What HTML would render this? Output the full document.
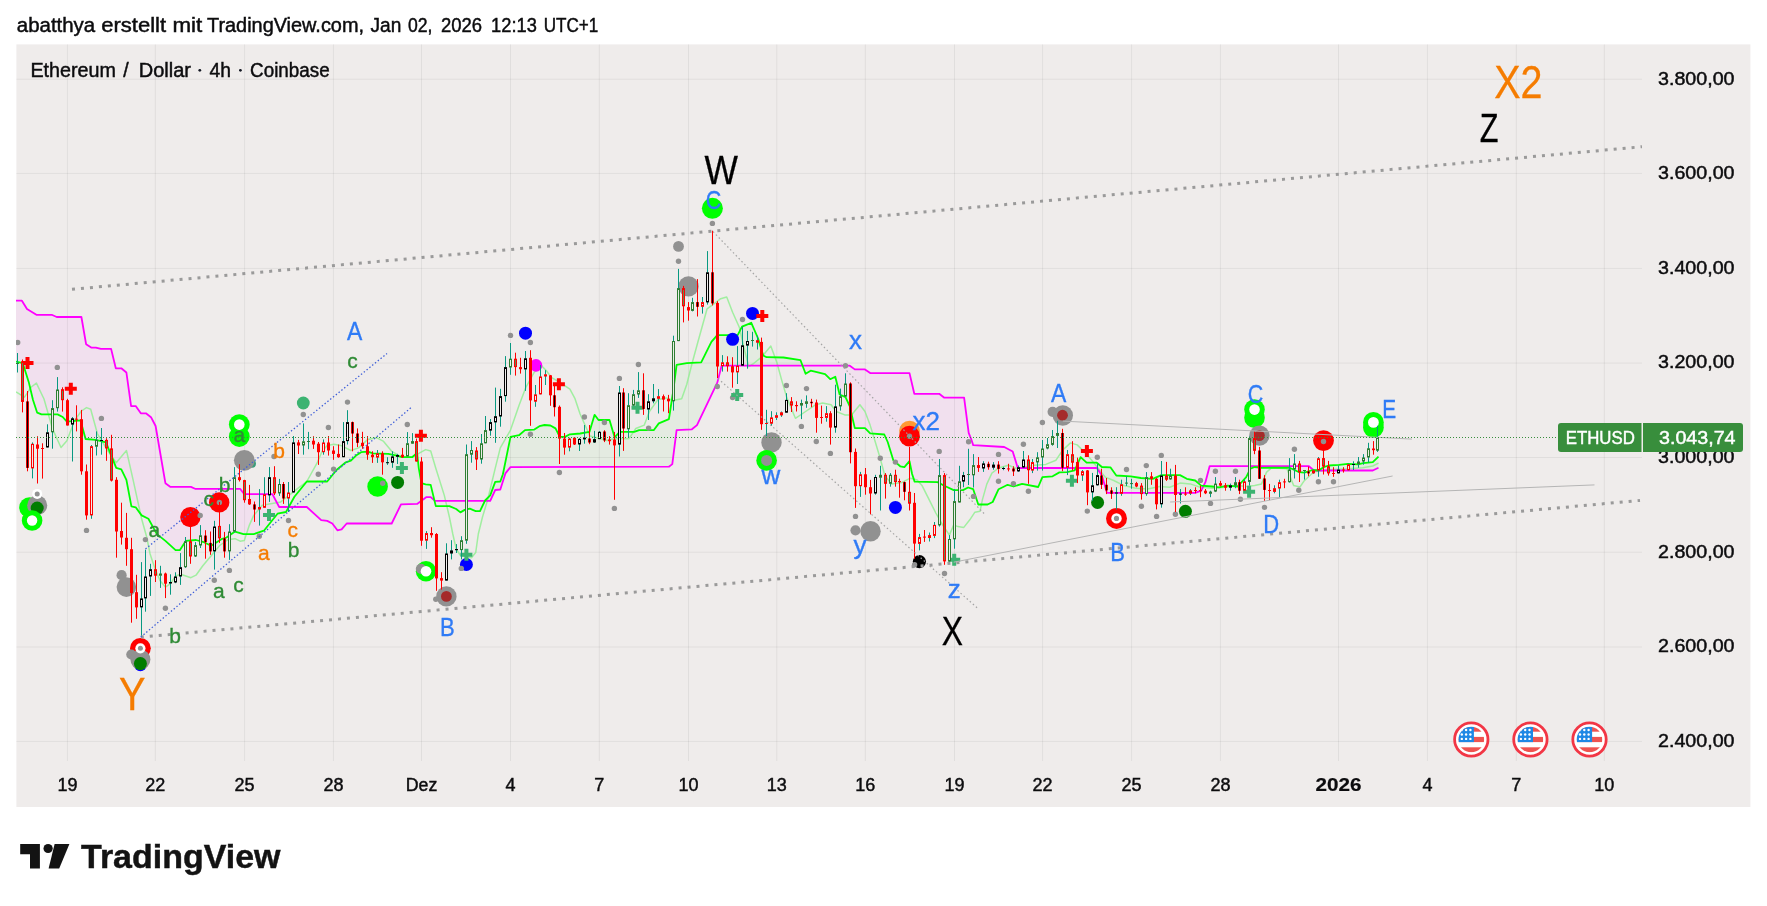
<!DOCTYPE html><html><head><meta charset="utf-8"><title>ETHUSD</title>
<style>html,body{margin:0;padding:0;background:#fff;overflow:hidden}svg{display:block;will-change:transform}text{font-family:"Liberation Sans",sans-serif}</style></head><body>
<svg width="1767" height="906" viewBox="0 0 1767 906">
<rect x="0" y="0" width="1767" height="906" fill="#fff"/>
<rect x="16.4" y="44.4" width="1734" height="762.6" fill="#efeceb"/>
<defs><clipPath id="plot"><rect x="16" y="44" width="1626" height="717"/></clipPath></defs>
<g clip-path="url(#plot)"><path d="M16.0 300.7L21.9 300.7L22.8 302.1L27.0 308.9L28.7 310.0L33.0 312.7L36.4 314.8L37.2 314.8L41.5 314.8L51.7 314.8L56.7 317.0L57.6 317.0L62.7 317.0L66.9 317.0L80.5 317.0L81.4 317.0L85.6 341.3L86.1 344.2L91.2 347.6L95.8 347.6L100.9 348.9L106.0 348.9L111.1 348.9L115.8 368.3L116.2 368.3L121.3 368.3L126.4 372.5L131.1 406.1L131.4 406.1L135.7 406.1L140.8 413.3L141.6 413.3L145.9 413.3L148.4 415.2L151.0 417.2L155.6 426.0L156.9 433.6L165.4 483.2L170.5 486.9L175.6 486.9L179.8 486.9L185.8 486.9L190.9 486.9L195.1 488.8L196.0 488.8L202.8 488.8L211.2 488.8L221.4 488.8L226.5 488.8L235.0 488.8L240.1 488.8L243.5 493.2L244.3 494.2L253.7 494.2L263.9 494.2L270.7 494.2L272.4 494.2L277.5 503.8L279.2 507.0L286.0 507.0L288.8 507.0L288.8 507.0L286.0 512.0L279.2 513.4L277.5 513.7L272.4 520.1L270.7 522.2L263.9 530.7L253.7 534.1L244.3 534.1L243.5 534.1L240.1 533.1L235.0 531.6L226.5 537.5L221.4 539.2L211.2 545.7L202.8 541.8L196.0 540.0L195.1 540.1L190.9 540.5L185.8 540.9L179.8 550.2L175.6 550.2L170.5 545.5L165.4 540.9L156.9 534.1L155.6 531.8L151.0 523.5L148.4 518.8L145.9 517.5L141.6 515.4L140.8 514.3L135.7 507.3L131.4 506.4L131.1 504.8L126.4 479.8L121.3 469.3L116.2 467.9L115.8 466.9L111.1 455.1L106.0 442.4L100.9 441.1L95.8 439.9L91.2 439.5L86.1 439.0L85.6 439.0L81.4 423.7L80.5 420.4L66.9 421.7L62.7 417.0L57.6 414.4L56.7 414.4L51.7 414.4L41.5 414.4L37.2 412.7L36.4 410.3L33.0 400.0L28.7 381.9L27.0 376.5L22.8 363.2L21.9 363.0L16.0 361.5ZM434.4 500.4L435.0 500.9L435.8 500.9L449.4 500.9L456.2 500.9L460.4 500.9L464.7 500.9L469.8 500.9L475.7 500.9L480.0 500.9L484.9 500.9L484.9 500.9L480.0 511.1L475.7 511.1L469.8 508.7L464.7 509.9L460.4 512.4L456.2 509.0L449.4 506.1L435.8 506.1L435.0 502.8L434.4 500.4ZM802.6 365.7L805.6 365.7L810.7 365.7L825.1 365.7L830.2 365.7L835.3 365.7L839.6 365.7L845.5 365.7L849.8 365.7L854.8 369.4L865.0 369.4L870.2 373.1L884.3 373.1L887.7 373.1L893.4 373.1L900.2 373.1L904.4 373.1L909.5 373.1L912.1 384.3L914.3 393.8L914.6 393.8L937.5 393.8L939.2 393.8L944.3 397.7L953.7 397.7L963.0 397.7L964.1 397.7L968.1 428.2L968.7 432.8L971.5 440.0L973.2 445.1L978.3 445.4L987.6 446.0L992.7 446.3L998.6 446.7L1003.7 447.0L1004.2 447.0L1007.6 448.8L1012.7 451.5L1013.6 454.4L1017.8 468.0L1022.1 468.0L1038.2 468.0L1042.4 468.0L1052.6 468.0L1059.4 468.0L1067.1 468.0L1074.7 468.0L1075.8 468.0L1075.8 468.0L1074.7 470.4L1067.1 472.1L1059.4 472.4L1052.6 476.3L1042.4 477.1L1038.2 487.0L1022.1 483.9L1017.8 485.2L1013.6 486.5L1012.7 486.2L1007.6 484.8L1004.2 486.5L1003.7 486.7L998.6 489.2L992.7 502.0L987.6 504.5L978.3 504.5L973.2 489.2L971.5 488.6L968.7 487.7L968.1 487.5L964.1 489.5L963.0 490.1L953.7 490.1L944.3 485.8L939.2 483.0L937.5 482.1L914.6 481.6L914.3 480.7L912.1 474.0L909.5 461.2L904.4 467.2L900.2 466.3L893.4 460.4L887.7 442.0L884.3 434.5L870.2 433.4L865.0 428.1L854.8 428.1L849.8 406.4L845.5 397.1L839.6 394.5L835.3 376.7L830.2 379.2L825.1 374.1L810.7 370.7L805.6 373.8L802.6 365.7ZM1203.6 485.8L1205.4 482.2L1209.7 466.1L1212.2 466.1L1219.0 466.1L1227.5 466.1L1237.7 466.1L1246.2 466.1L1250.4 466.1L1254.7 466.1L1261.5 466.2L1289.6 466.2L1299.2 466.2L1304.3 466.2L1308.9 466.2L1312.8 469.5L1313.5 470.1L1313.5 470.1L1312.8 470.0L1308.9 471.2L1304.3 472.6L1299.2 472.2L1289.6 467.7L1261.5 467.8L1254.7 467.0L1250.4 468.7L1246.2 477.1L1237.7 486.5L1227.5 485.6L1219.0 487.3L1212.2 486.5L1209.7 486.3L1205.4 485.9L1203.6 485.8Z" fill="#f1e0ee"/>
<path d="M288.8 507.0L294.4 507.0L306.8 507.0L321.2 520.1L327.2 520.9L332.3 523.5L336.5 529.1L337.4 530.3L341.6 529.4L345.8 524.5L346.7 523.5L350.9 523.5L356.0 523.5L361.1 523.5L367.9 523.5L373.0 523.5L388.3 523.5L391.7 523.5L396.8 513.0L401.0 504.4L401.9 504.4L412.1 504.1L417.1 503.9L418.8 502.7L421.4 500.8L425.6 497.8L426.5 497.1L430.7 497.1L434.4 500.4L434.4 500.4L430.7 484.9L426.5 484.5L425.6 484.4L421.4 483.2L418.8 468.3L417.1 453.0L412.1 457.2L401.9 457.2L401.0 456.9L396.8 455.6L391.7 454.6L388.3 453.9L373.0 453.3L367.9 451.6L361.1 452.2L356.0 455.6L350.9 460.6L346.7 462.0L345.8 462.3L341.6 465.8L337.4 469.3L336.5 470.0L332.3 475.2L327.2 481.5L321.2 481.5L306.8 481.5L294.4 496.8L288.8 507.0ZM484.9 500.9L485.1 500.9L490.2 500.9L495.2 490.0L500.3 489.5L502.9 481.3L505.4 473.4L510.5 467.1L519.0 467.1L525.0 467.1L534.3 467.0L539.4 467.0L544.5 467.0L550.4 467.0L555.5 467.0L559.8 467.0L564.9 467.0L569.9 466.9L580.1 466.9L589.5 466.9L594.6 466.9L598.5 466.9L609.5 466.9L614.6 466.8L619.7 466.8L634.1 466.8L639.2 466.8L653.7 466.7L658.8 466.7L668.9 466.7L672.3 464.1L673.2 457.0L676.6 430.2L686.8 429.6L691.9 429.3L697.0 425.1L701.2 416.3L711.4 395.0L717.3 382.6L721.6 365.7L737.7 365.7L742.0 365.7L751.3 365.7L758.1 365.7L763.2 365.7L766.6 365.7L783.5 365.7L800.5 365.7L802.6 365.7L802.6 365.7L800.5 360.2L783.5 357.5L766.6 357.2L763.2 355.5L758.1 338.5L751.3 322.8L742.0 326.7L737.7 335.2L721.6 335.2L717.3 335.2L711.4 341.9L701.2 362.3L697.0 362.5L691.9 362.8L686.8 363.1L676.6 364.8L673.2 391.1L672.3 397.0L668.9 419.1L658.8 423.4L653.7 430.2L639.2 430.2L634.1 431.9L619.7 431.9L614.6 437.3L609.5 420.0L598.5 420.0L594.6 414.8L589.5 431.8L580.1 433.5L569.9 434.3L564.9 436.9L559.8 436.9L555.5 428.4L550.4 425.5L544.5 425.0L539.4 426.2L534.3 429.6L525.0 430.1L519.0 435.2L510.5 436.9L505.4 461.9L502.9 474.2L500.3 481.5L495.2 481.9L490.2 495.4L485.1 500.5L484.9 500.9ZM1075.8 468.0L1080.6 468.0L1086.6 468.0L1096.8 468.0L1101.9 475.5L1107.0 492.9L1110.4 492.9L1116.3 492.9L1130.7 492.9L1140.9 492.9L1152.8 492.9L1161.3 492.9L1180.0 492.9L1186.8 492.9L1195.2 492.9L1201.2 490.7L1203.6 485.8L1203.6 485.8L1201.2 485.6L1195.2 480.5L1186.8 478.8L1180.0 475.1L1161.3 475.1L1152.8 478.8L1140.9 478.0L1130.7 476.3L1116.3 475.5L1110.4 467.3L1107.0 467.2L1101.9 467.0L1096.8 462.7L1086.6 462.7L1080.6 457.1L1075.8 468.0ZM1313.5 470.1L1314.0 470.5L1318.5 470.5L1323.6 470.5L1328.7 470.5L1338.9 470.5L1347.9 470.5L1358.1 470.5L1363.2 470.5L1372.8 470.5L1378.5 467.7L1378.5 456.7L1372.8 462.1L1363.2 463.2L1358.1 464.3L1347.9 463.8L1338.9 464.9L1328.7 465.5L1323.6 467.2L1318.5 470.5L1314.0 470.1L1313.5 470.1Z" fill="#e4ebe1"/></g>
<path d="M67.4 44.4V761M155.3 44.4V761M244.6 44.4V761M333.4 44.4V761M421.5 44.4V761M510.5 44.4V761M599.3 44.4V761M688.5 44.4V761M776.8 44.4V761M865.3 44.4V761M954.5 44.4V761M1042.6 44.4V761M1131.6 44.4V761M1220.4 44.4V761M1338.5 44.4V761M1427.4 44.4V761M1516.3 44.4V761M1604.3 44.4V761M16.4 79.2H1642M16.4 173.4H1642M16.4 268.4H1642M16.4 363.1H1642M16.4 457.5H1642M16.4 552.2H1642M16.4 647.0H1642M16.4 741.4H1642" stroke="#000" stroke-opacity="0.06" stroke-width="1" fill="none"/>
<text x="16.8" y="31.8" font-size="19.5" fill="#0c0c0e" textLength="78.4" lengthAdjust="spacingAndGlyphs" stroke="#0c0c0e" stroke-width="0.45">abatthya</text>
<text x="101.2" y="31.8" font-size="19.5" fill="#0c0c0e" textLength="64.9" lengthAdjust="spacingAndGlyphs" stroke="#0c0c0e" stroke-width="0.45">erstellt</text>
<text x="172.5" y="31.8" font-size="19.5" fill="#0c0c0e" textLength="29.8" lengthAdjust="spacingAndGlyphs" stroke="#0c0c0e" stroke-width="0.45">mit</text>
<text x="207.0" y="31.8" font-size="19.5" fill="#0c0c0e" textLength="157.0" lengthAdjust="spacingAndGlyphs" stroke="#0c0c0e" stroke-width="0.45">TradingView.com,</text>
<text x="370.5" y="31.8" font-size="19.5" fill="#0c0c0e" textLength="30.8" lengthAdjust="spacingAndGlyphs" stroke="#0c0c0e" stroke-width="0.45">Jan</text>
<text x="407.9" y="31.8" font-size="19.5" fill="#0c0c0e" textLength="24.5" lengthAdjust="spacingAndGlyphs" stroke="#0c0c0e" stroke-width="0.45">02,</text>
<text x="441.0" y="31.8" font-size="19.5" fill="#0c0c0e" textLength="41.1" lengthAdjust="spacingAndGlyphs" stroke="#0c0c0e" stroke-width="0.45">2026</text>
<text x="491.1" y="31.8" font-size="19.5" fill="#0c0c0e" textLength="45.7" lengthAdjust="spacingAndGlyphs" stroke="#0c0c0e" stroke-width="0.45">12:13</text>
<text x="543.7" y="31.8" font-size="19.5" fill="#0c0c0e" textLength="54.6" lengthAdjust="spacingAndGlyphs" stroke="#0c0c0e" stroke-width="0.45">UTC+1</text>
<text x="30.4" y="76.8" font-size="19.5" fill="#0c0c0e" textLength="85.5" lengthAdjust="spacingAndGlyphs" stroke="#0c0c0e" stroke-width="0.45">Ethereum</text>
<text x="123.3" y="76.8" font-size="19.5" fill="#0c0c0e" stroke="#0c0c0e" stroke-width="0.45">/</text>
<text x="138.7" y="76.8" font-size="19.5" fill="#0c0c0e" textLength="52.3" lengthAdjust="spacingAndGlyphs" stroke="#0c0c0e" stroke-width="0.45">Dollar</text>
<circle cx="199.8" cy="70.3" r="1.4" fill="#131722"/>
<text x="209.4" y="76.8" font-size="19.5" fill="#0c0c0e" textLength="21.5" lengthAdjust="spacingAndGlyphs" stroke="#0c0c0e" stroke-width="0.45">4h</text>
<circle cx="240.4" cy="70.3" r="1.4" fill="#131722"/>
<text x="250.1" y="76.8" font-size="19.5" fill="#0c0c0e" textLength="79.5" lengthAdjust="spacingAndGlyphs" stroke="#0c0c0e" stroke-width="0.45">Coinbase</text>
<text x="1658" y="84.5" font-size="18" fill="#0c0c0e" textLength="76.5" lengthAdjust="spacingAndGlyphs" stroke="#0c0c0e" stroke-width="0.45">3.800,00</text>
<text x="1658" y="178.7" font-size="18" fill="#0c0c0e" textLength="76.5" lengthAdjust="spacingAndGlyphs" stroke="#0c0c0e" stroke-width="0.45">3.600,00</text>
<text x="1658" y="273.7" font-size="18" fill="#0c0c0e" textLength="76.5" lengthAdjust="spacingAndGlyphs" stroke="#0c0c0e" stroke-width="0.45">3.400,00</text>
<text x="1658" y="368.4" font-size="18" fill="#0c0c0e" textLength="76.5" lengthAdjust="spacingAndGlyphs" stroke="#0c0c0e" stroke-width="0.45">3.200,00</text>
<text x="1658" y="462.8" font-size="18" fill="#0c0c0e" textLength="76.5" lengthAdjust="spacingAndGlyphs" stroke="#0c0c0e" stroke-width="0.45">3.000,00</text>
<text x="1658" y="557.5" font-size="18" fill="#0c0c0e" textLength="76.5" lengthAdjust="spacingAndGlyphs" stroke="#0c0c0e" stroke-width="0.45">2.800,00</text>
<text x="1658" y="652.3" font-size="18" fill="#0c0c0e" textLength="76.5" lengthAdjust="spacingAndGlyphs" stroke="#0c0c0e" stroke-width="0.45">2.600,00</text>
<text x="1658" y="746.7" font-size="18" fill="#0c0c0e" textLength="76.5" lengthAdjust="spacingAndGlyphs" stroke="#0c0c0e" stroke-width="0.45">2.400,00</text>
<text x="67.4" y="790.6" font-size="18" fill="#0c0c0e" text-anchor="middle" stroke="#0c0c0e" stroke-width="0.45">19</text>
<text x="155.3" y="790.6" font-size="18" fill="#0c0c0e" text-anchor="middle" stroke="#0c0c0e" stroke-width="0.45">22</text>
<text x="244.6" y="790.6" font-size="18" fill="#0c0c0e" text-anchor="middle" stroke="#0c0c0e" stroke-width="0.45">25</text>
<text x="333.4" y="790.6" font-size="18" fill="#0c0c0e" text-anchor="middle" stroke="#0c0c0e" stroke-width="0.45">28</text>
<text x="421.5" y="790.6" font-size="18" fill="#0c0c0e" text-anchor="middle" textLength="31.5" lengthAdjust="spacingAndGlyphs" stroke="#0c0c0e" stroke-width="0.45">Dez</text>
<text x="510.5" y="790.6" font-size="18" fill="#0c0c0e" text-anchor="middle" stroke="#0c0c0e" stroke-width="0.45">4</text>
<text x="599.3" y="790.6" font-size="18" fill="#0c0c0e" text-anchor="middle" stroke="#0c0c0e" stroke-width="0.45">7</text>
<text x="688.5" y="790.6" font-size="18" fill="#0c0c0e" text-anchor="middle" stroke="#0c0c0e" stroke-width="0.45">10</text>
<text x="776.8" y="790.6" font-size="18" fill="#0c0c0e" text-anchor="middle" stroke="#0c0c0e" stroke-width="0.45">13</text>
<text x="865.3" y="790.6" font-size="18" fill="#0c0c0e" text-anchor="middle" stroke="#0c0c0e" stroke-width="0.45">16</text>
<text x="954.5" y="790.6" font-size="18" fill="#0c0c0e" text-anchor="middle" stroke="#0c0c0e" stroke-width="0.45">19</text>
<text x="1042.6" y="790.6" font-size="18" fill="#0c0c0e" text-anchor="middle" stroke="#0c0c0e" stroke-width="0.45">22</text>
<text x="1131.6" y="790.6" font-size="18" fill="#0c0c0e" text-anchor="middle" stroke="#0c0c0e" stroke-width="0.45">25</text>
<text x="1220.4" y="790.6" font-size="18" fill="#0c0c0e" text-anchor="middle" stroke="#0c0c0e" stroke-width="0.45">28</text>
<text x="1338.5" y="790.6" font-size="18" fill="#0c0c0e" text-anchor="middle" textLength="46" lengthAdjust="spacingAndGlyphs" font-weight="bold" stroke="#0c0c0e" stroke-width="0.2">2026</text>
<text x="1427.4" y="790.6" font-size="18" fill="#0c0c0e" text-anchor="middle" stroke="#0c0c0e" stroke-width="0.45">4</text>
<text x="1516.3" y="790.6" font-size="18" fill="#0c0c0e" text-anchor="middle" stroke="#0c0c0e" stroke-width="0.45">7</text>
<text x="1604.3" y="790.6" font-size="18" fill="#0c0c0e" text-anchor="middle" stroke="#0c0c0e" stroke-width="0.45">10</text>
<g clip-path="url(#plot)">
<path d="M16 392L24.5 397.1L31.3 387L36.4 383.1L44 399L52.5 428.9L61 447.5L66.9 440.7L74.6 420.4L81.4 411L86.5 407.6L90.7 409.3L97.5 434L106.8 449.2L116.2 462.8L126.5 450.6L133.1 479.8L141.6 518.8L146.7 537L150.1 554L155.2 569.2L160.3 581.1L165.4 587.1L170.5 583.7L175.6 576L180.7 574.3L190.9 577.7L196 575.2L202.8 565.8L211.2 555.7L219.7 545.5L228.2 539.5L235 538.7L240.1 541.2L244.3 540.4L249.4 525.1L253.7 515.4L262.2 505.3L280.8 501.9L297.8 488.3L306.8 481.5L317 463.2L322.1 451.3L327.2 445.4L334 444.2L340.7 445.4L350.9 450.5L358.6 447.9L367.9 439.4L376.4 437.7L383.2 441.1L391.7 451.3L401.9 457.2L412.1 457.2L425.6 449.6L430.7 451L435.8 468.3L444.3 495.4L449.4 517L452.8 534L456.2 549.2L460.4 555.2L471.5 557.7L475.7 552.6L478.3 534L482.5 517L487.6 500L495.2 468.3L500.3 447.9L510.5 430.1L519 405.5L525.8 387.5L534.3 372.2L541.1 365.4L546.2 370.5L551.3 377.3L559.8 382.4L569.9 389.2L575 398.7L580.1 414L586.9 429.2L590 436.1L607 440.4L613.8 438.7L629 438.7L635.8 428.5L644.3 425.1L649.4 411.5L657.9 399.6L666.4 397.9L673.2 400.5L681.7 398.8L686.8 384.3L691.9 364L697 345.3L707.1 308.8L713.9 303.8L720.7 298.7L726.7 297L732.6 312.2L739.4 327.5L744 348L748.7 366.5L753 364L761.5 357.2L770.8 346.1L776.8 362.3L781.9 380.9L786.9 397.9L795.4 418.3L805.6 411.5L815.8 404.7L822.6 403L831.1 404.7L836.2 411.5L844.7 414.9L851.5 414.9L859.9 404.7L865 411.5L870.1 425.1L874.7 440L879.8 457L884.9 475.7L891.7 484.1L901.9 482.4L910.4 478.2L917.1 479.9L922.2 485.8L929 499.4L935.8 513L942.6 524.9L949.4 535.1L953.7 524.9L957.9 526.6L963.8 527.4L969.8 519.8L974.9 512.2L980 511.3L982.5 499.4L986.8 484.1L991.9 473.1L998.6 468L1008.5 465.3L1017 468.7L1034 465.3L1045.8 464.4L1056 460.2L1062.8 450L1070.5 442.9L1077.2 444.9L1084.9 452.5L1091.7 460.2L1098.5 468.7L1105.3 477.1L1113.8 480.5L1123.9 485.6L1135.8 488.2L1147.7 489L1159.6 486.5L1169.8 487.3L1180 483.1L1190.2 483.9L1200.3 487.3L1212.2 488.2L1225.8 487.3L1237.7 485.6L1246.2 486.5L1254.7 485.6L1261.5 483.9L1266.6 472.1L1271.6 467.8L1286.9 468.7L1293.7 485.6L1300 487L1304.3 480.7L1314 471.7L1333.2 469.4L1347.9 468.8L1362.6 467.7L1372.8 466L1378.5 463.2" stroke="#98ee98" stroke-width="1.5" fill="none" stroke-linejoin="round" opacity="0.9"/>
<path d="M16 300.7L21.9 300.7L27 308.9L36.4 314.8L51.7 314.8L56.7 317L81.4 317L86.1 344.2L91.2 347.6L95.8 347.6L100.9 348.9L111.1 348.9L115.8 368.3L121.3 368.3L126.4 372.5L131.1 406.1L135.7 406.1L140.8 413.3L145.9 413.3L151 417.2L155.6 426L165.4 483.2L170.5 486.9L190.9 486.9L195.1 488.8L240.1 488.8L244.3 494.2L272.4 494.2L279.2 507L306.8 507L321.2 520.1L327.2 520.9L332.3 523.5L337.4 530.3L341.6 529.4L346.7 523.5L391.7 523.5L401 504.4L417.1 503.9L426.5 497.1L430.7 497.1L435 500.9L490.2 500.9L495.2 490L500.3 489.5L505.4 473.4L510.5 467.1L668.9 466.7L672.3 464.1L676.6 430.2L691.9 429.3L697 425.1L717.3 382.6L721.6 365.7L849.8 365.7L854.8 369.4L865 369.4L870.2 373.1L909.5 373.1L914.3 393.8L939.2 393.8L944.3 397.7L964.1 397.7L968.7 432.8L971.5 440L973.2 445.1L1004.2 447L1012.7 451.5L1017.8 468L1096.8 468L1101.9 475.5L1107 492.9L1195.2 492.9L1201.2 490.7L1205.4 482.2L1209.7 466.1L1308.9 466.2L1314 470.5L1372.8 470.5L1378.5 467.7" stroke="#ff00ff" stroke-width="1.8" fill="none" stroke-linejoin="round"/>
<path d="M16 361.5L22.8 363.2L28.7 381.9L33 400L37.2 412.7L41.5 414.4L57.6 414.4L62.7 417L66.9 421.7L80.5 420.4L85.6 439L95.8 439.9L106 442.4L116.2 467.9L121.3 469.3L126.4 479.8L131.4 506.4L135.7 507.3L141.6 515.4L148.4 518.8L156.9 534.1L165.4 540.9L175.6 550.2L179.8 550.2L185.8 540.9L196 540L202.8 541.8L211.2 545.7L221.4 539.2L226.5 537.5L235 531.6L243.5 534.1L253.7 534.1L263.9 530.7L270.7 522.2L277.5 513.7L286 512L294.4 496.8L306.8 481.5L327.2 481.5L336.5 470L345.8 462.3L350.9 460.6L356 455.6L361.1 452.2L367.9 451.6L373 453.3L388.3 453.9L396.8 455.6L401.9 457.2L412.1 457.2L417.1 453L418.8 468.3L421.4 483.2L425.6 484.4L430.7 484.9L435.8 506.1L449.4 506.1L456.2 509L460.4 512.4L464.7 509.9L469.8 508.7L475.7 511.1L480 511.1L485.1 500.5L490.2 495.4L495.2 481.9L500.3 481.5L502.9 474.2L510.5 436.9L519 435.2L525 430.1L534.3 429.6L539.4 426.2L544.5 425L550.4 425.5L555.5 428.4L559.8 436.9L564.9 436.9L569.9 434.3L580.1 433.5L589.5 431.8L594.6 414.8L598.5 420L609.5 420L614.6 437.3L619.7 431.9L634.1 431.9L639.2 430.2L653.7 430.2L658.8 423.4L668.9 419.1L673.2 391.1L676.6 364.8L686.8 363.1L701.2 362.3L711.4 341.9L717.3 335.2L737.7 335.2L742 326.7L751.3 322.8L758.1 338.5L763.2 355.5L766.6 357.2L783.5 357.5L800.5 360.2L805.6 373.8L810.7 370.7L825.1 374.1L830.2 379.2L835.3 376.7L839.6 394.5L845.5 397.1L849.8 406.4L854.8 428.1L865 428.1L870.2 433.4L884.3 434.5L887.7 442L893.4 460.4L900.2 466.3L904.4 467.2L909.5 461.2L912.1 474L914.6 481.6L937.5 482.1L944.3 485.8L953.7 490.1L963 490.1L968.1 487.5L973.2 489.2L978.3 504.5L987.6 504.5L992.7 502L998.6 489.2L1003.7 486.7L1007.6 484.8L1013.6 486.5L1022.1 483.9L1038.2 487L1042.4 477.1L1052.6 476.3L1059.4 472.4L1067.1 472.1L1074.7 470.4L1080.6 457.1L1086.6 462.7L1096.8 462.7L1101.9 467L1110.4 467.3L1116.3 475.5L1130.7 476.3L1140.9 478L1152.8 478.8L1161.3 475.1L1180 475.1L1186.8 478.8L1195.2 480.5L1201.2 485.6L1212.2 486.5L1219 487.3L1227.5 485.6L1237.7 486.5L1246.2 477.1L1250.4 468.7L1254.7 467L1261.5 467.8L1289.6 467.7L1299.2 472.2L1304.3 472.6L1312.8 470L1318.5 470.5L1323.6 467.2L1328.7 465.5L1338.9 464.9L1347.9 463.8L1358.1 464.3L1363.2 463.2L1372.8 462.1L1378.5 456.7" stroke="#00ff00" stroke-width="1.8" fill="none" stroke-linejoin="round"/>
<circle cx="29.5" cy="507.5" r="10.3" fill="#00ff00"/>
<circle cx="37.2" cy="505.3" r="10" fill="#919191"/>
<circle cx="37.2" cy="508.1" r="6.5" fill="#007d00"/>
<circle cx="32.1" cy="520.5" r="10.3" fill="#00ff00"/>
<circle cx="32.1" cy="520.5" r="5.2" fill="#fff"/>
<circle cx="37.2" cy="493.9" r="5" fill="#fff"/>
<circle cx="37.2" cy="493.9" r="2.5" fill="#919191"/>
<circle cx="121.6" cy="575.2" r="5.1" fill="#919191"/>
<circle cx="126.4" cy="587.1" r="9.8" fill="#919191"/>
<circle cx="252" cy="463.7" r="4" fill="#3a9d7a"/>
<circle cx="244.3" cy="460.3" r="10.4" fill="#919191"/>
<circle cx="140.4" cy="648.3" r="10.4" fill="#ff0000"/>
<circle cx="140.4" cy="664.7" r="6.5" fill="#0000ff"/>
<circle cx="131.3" cy="654.5" r="5.1" fill="#919191"/>
<circle cx="140.4" cy="659.6" r="10" fill="#919191"/>
<circle cx="140.4" cy="663.6" r="6.5" fill="#007d00"/>
<circle cx="140.4" cy="648.3" r="5.1" fill="#fff"/>
<circle cx="140.4" cy="648.3" r="2.5" fill="#919191"/>
<circle cx="239.3" cy="436.5" r="10.4" fill="#00ff00"/>
<circle cx="239.3" cy="424.6" r="10.4" fill="#00ff00"/>
<circle cx="239.3" cy="424.6" r="5.3" fill="#fff"/>
<circle cx="190.4" cy="517.1" r="10.2" fill="#ff0000"/>
<circle cx="219.2" cy="502.4" r="10.2" fill="#ff0000"/>
<circle cx="219.4" cy="502.4" r="2.7" fill="#919191"/>
<circle cx="303.3" cy="403" r="6.4" fill="#3cb371"/>
<circle cx="377.6" cy="486.5" r="10.3" fill="#00ff00"/>
<circle cx="397.6" cy="482.4" r="6.5" fill="#007d00"/>
<circle cx="426" cy="571.3" r="10.2" fill="#00ff00"/>
<circle cx="420.9" cy="568.8" r="5.1" fill="#919191"/>
<circle cx="426" cy="571.3" r="5.3" fill="#fff"/>
<circle cx="446.4" cy="596.4" r="10.2" fill="#919191"/>
<circle cx="446.4" cy="596.4" r="5.4" fill="#a52a2a"/>
<circle cx="466.4" cy="564.5" r="6.5" fill="#0000ff"/>
<circle cx="525.5" cy="333.2" r="6.5" fill="#0000ff"/>
<circle cx="536" cy="365.4" r="6.3" fill="#ff00ff"/>
<circle cx="678.5" cy="246.4" r="5.4" fill="#919191"/>
<circle cx="688.5" cy="286.4" r="10.2" fill="#919191"/>
<circle cx="712.4" cy="208.3" r="10.5" fill="#00ff00"/>
<circle cx="732.6" cy="339.3" r="6.5" fill="#0000ff"/>
<circle cx="752.5" cy="313.4" r="6.5" fill="#0000ff"/>
<circle cx="771.5" cy="442.4" r="10.2" fill="#919191"/>
<circle cx="766.6" cy="460.4" r="10.3" fill="#00ff00"/>
<circle cx="766.6" cy="460.4" r="5.5" fill="#919191"/>
<circle cx="855.5" cy="530.3" r="5.1" fill="#919191"/>
<circle cx="870.5" cy="531.3" r="10.2" fill="#919191"/>
<circle cx="895.4" cy="507.4" r="6.5" fill="#0000ff"/>
<circle cx="909.5" cy="431.1" r="10.4" fill="#ff9933"/>
<circle cx="909.5" cy="436.2" r="10.4" fill="#ff0000"/>
<circle cx="909.5" cy="436.2" r="2.7" fill="#919191"/>
<circle cx="919.4" cy="561.6" r="6.6" fill="#000"/>
<circle cx="1052.6" cy="411.8" r="5.1" fill="#919191"/>
<circle cx="1062.8" cy="415.5" r="10.2" fill="#919191"/>
<circle cx="1062.5" cy="415.2" r="5.4" fill="#a52a2a"/>
<circle cx="1097.6" cy="502.5" r="6.5" fill="#007d00"/>
<circle cx="1185.4" cy="511.3" r="6.5" fill="#007d00"/>
<circle cx="1116.5" cy="518.4" r="10.5" fill="#ff0000"/>
<circle cx="1116.5" cy="518.4" r="5.2" fill="#fff"/>
<circle cx="1116.5" cy="518.4" r="2.6" fill="#919191"/>
<circle cx="1254.5" cy="417.7" r="10.3" fill="#00ff00"/>
<circle cx="1254.5" cy="409.6" r="10.3" fill="#00ff00"/>
<circle cx="1254.5" cy="409.6" r="5.3" fill="#fff"/>
<circle cx="1259.4" cy="435.6" r="10.2" fill="#919191"/>
<circle cx="1259.4" cy="435.6" r="5.4" fill="#a52a2a"/>
<circle cx="1323.5" cy="440.6" r="10.4" fill="#ff0000"/>
<circle cx="1323.5" cy="441.5" r="2.7" fill="#919191"/>
<circle cx="1373.4" cy="427.5" r="10.4" fill="#00ff00"/>
<circle cx="1373.4" cy="422.4" r="10.4" fill="#00ff00"/>
<circle cx="1373.4" cy="422.4" r="5.4" fill="#fff"/>
<g fill="#919191"><circle cx="17.7" cy="342.5" r="2.7"/><circle cx="57.3" cy="367.4" r="2.7"/><circle cx="101.4" cy="418.4" r="2.7"/><circle cx="303.3" cy="414.5" r="2.7"/><circle cx="86.5" cy="530.4" r="2.7"/><circle cx="145.4" cy="539.6" r="2.7"/><circle cx="200.2" cy="515.4" r="2.7"/><circle cx="274" cy="456.5" r="2.7"/><circle cx="288.5" cy="520.5" r="2.7"/><circle cx="259.3" cy="536.3" r="2.7"/><circle cx="229.4" cy="570.4" r="2.7"/><circle cx="214.3" cy="580.3" r="2.7"/><circle cx="165.4" cy="608.3" r="2.7"/><circle cx="347.5" cy="402.1" r="2.7"/><circle cx="328.4" cy="427.5" r="2.7"/><circle cx="407.3" cy="424.5" r="2.7"/><circle cx="318.3" cy="474.2" r="2.7"/><circle cx="333.6" cy="469.1" r="2.7"/><circle cx="530.4" cy="434.3" r="2.7"/><circle cx="584.4" cy="417" r="2.7"/><circle cx="559.4" cy="472.5" r="2.7"/><circle cx="382.7" cy="483.2" r="2.7"/><circle cx="435.8" cy="599.3" r="2.7"/><circle cx="461.3" cy="568.4" r="2.7"/><circle cx="510.5" cy="335.4" r="2.7"/><circle cx="530.4" cy="342.5" r="2.7"/><circle cx="638.4" cy="364.5" r="2.7"/><circle cx="619.4" cy="378.4" r="2.7"/><circle cx="604.4" cy="422.5" r="2.7"/><circle cx="648.6" cy="428.1" r="2.7"/><circle cx="717.3" cy="386.5" r="2.7"/><circle cx="732.6" cy="397.6" r="2.7"/><circle cx="786.4" cy="385.5" r="2.7"/><circle cx="806.5" cy="388.6" r="2.7"/><circle cx="801.4" cy="426.4" r="2.7"/><circle cx="816.3" cy="441.5" r="2.7"/><circle cx="830.4" cy="453.4" r="2.7"/><circle cx="845.5" cy="365.7" r="2.7"/><circle cx="880.3" cy="458.2" r="2.7"/><circle cx="712.4" cy="223.4" r="2.7"/><circle cx="678.5" cy="261.3" r="2.7"/><circle cx="742.5" cy="319.5" r="2.7"/><circle cx="614.4" cy="508.4" r="2.7"/><circle cx="895.4" cy="462.1" r="2.7"/><circle cx="855.5" cy="516.4" r="2.7"/><circle cx="939.2" cy="451.4" r="2.7"/><circle cx="968.6" cy="441.7" r="2.7"/><circle cx="998.5" cy="454.4" r="2.7"/><circle cx="1023.4" cy="444.2" r="2.7"/><circle cx="998.5" cy="481.3" r="2.7"/><circle cx="1013.4" cy="483.6" r="2.7"/><circle cx="973.5" cy="496.4" r="2.7"/><circle cx="1028.4" cy="491.3" r="2.7"/><circle cx="1087.3" cy="511.1" r="2.7"/><circle cx="1097.3" cy="457.3" r="2.7"/><circle cx="944.5" cy="573.5" r="2.7"/><circle cx="1042.4" cy="422.5" r="2.7"/><circle cx="1126.5" cy="469.5" r="2.7"/><circle cx="1146.3" cy="465.6" r="2.7"/><circle cx="1161.3" cy="455.4" r="2.7"/><circle cx="1141.4" cy="506.3" r="2.7"/><circle cx="1200.5" cy="480.4" r="2.7"/><circle cx="1215.4" cy="471.3" r="2.7"/><circle cx="1235.5" cy="471.3" r="2.7"/><circle cx="1210.5" cy="503.4" r="2.7"/><circle cx="1240.4" cy="499.3" r="2.7"/><circle cx="1264.5" cy="507.4" r="2.7"/><circle cx="1294.4" cy="449.2" r="2.7"/><circle cx="1298.8" cy="490.3" r="2.7"/><circle cx="1156.6" cy="516.4" r="2.7"/><circle cx="1175.4" cy="514.2" r="2.7"/><circle cx="1318.4" cy="481.8" r="2.7"/><circle cx="1333.5" cy="481.8" r="2.7"/><circle cx="914.6" cy="564.8" r="2.7"/></g>
<path d="M21.5 360.9H33.5V364.9H21.5ZM25.5 356.9H29.5V368.9H25.5Z" fill="#ff0000"/>
<path d="M64.8 386.7H76.8V390.7H64.8ZM68.8 382.7H72.8V394.7H68.8Z" fill="#ff0000"/>
<path d="M414.9 433.7H426.9V437.7H414.9ZM418.9 429.7H422.9V441.7H418.9Z" fill="#ff0000"/>
<path d="M552.9 382.2H564.9V386.2H552.9ZM556.9 378.2H560.9V390.2H556.9Z" fill="#ff0000"/>
<path d="M756.3 314.0H768.3V318.0H756.3ZM760.3 310.0H764.3V322.0H760.3Z" fill="#ff0000"/>
<path d="M1080.9 448.9H1092.9V452.9H1080.9ZM1084.9 444.9H1088.9V456.9H1084.9Z" fill="#ff0000"/>
<path d="M263.0 513.1H275.0V517.1H263.0ZM267.0 509.1H271.0V521.1H267.0Z" fill="#3cb371"/>
<path d="M395.9 465.9H407.9V469.9H395.9ZM399.9 461.9H403.9V473.9H399.9Z" fill="#3cb371"/>
<path d="M460.4 552.7H472.4V556.7H460.4ZM464.4 548.7H468.4V560.7H464.4Z" fill="#3cb371"/>
<path d="M631.5 405.8H643.5V409.8H631.5ZM635.5 401.8H639.5V413.8H635.5Z" fill="#3cb371"/>
<path d="M731.2 392.9H743.2V396.9H731.2ZM735.2 388.9H739.2V400.9H735.2Z" fill="#3cb371"/>
<path d="M948.2 557.7H960.2V561.7H948.2ZM952.2 553.7H956.2V565.7H952.2Z" fill="#3cb371"/>
<path d="M1065.9 478.8H1077.9V482.8H1065.9ZM1069.9 474.8H1073.9V486.8H1069.9Z" fill="#3cb371"/>
<path d="M1243.1 489.7H1255.1V493.7H1243.1ZM1247.1 485.7H1251.1V497.7H1247.1Z" fill="#3cb371"/>
<path d="M22.5 359.5V412.4M27.5 391.0V471.3M37.5 436.2V483.5M42.5 443.3V478.6M62.5 387.3V411.6M67.5 398.8V425.5M76.5 405.3V431.4M81.5 409.9V474.7M86.5 464.5V519.7M106.5 438.2V460.8M111.5 434.8V481.5M116.5 477.2V557.7M121.5 502.7V544.6M126.5 512.9V565.8M131.5 537.8V622.7M136.5 574.8V618.8M155.5 560.2V582.0M165.5 572.6V598.1M190.5 510.0V563.8M205.5 530.2V558.7M210.5 531.5V554.8M219.5 502.0V542.9M224.5 531.9V557.7M239.5 464.2V481.5M244.5 479.8V502.7M249.5 484.9V504.9M254.5 501.5V521.9M274.5 466.2V495.1M283.5 482.0V503.9M298.5 439.9V454.0M313.5 436.2V448.9M318.5 442.0V464.9M328.5 436.0V455.6M333.5 446.2V459.8M338.5 444.5V457.8M352.5 421.6V451.3M357.5 428.4V447.1M362.5 431.8V448.8M367.5 436.0V459.8M372.5 451.3V462.9M382.5 451.3V474.7M402.5 447.9V458.0M416.5 438.6V461.5M421.5 457.2V545.8M431.5 527.2V537.7M436.5 533.1V590.8M441.5 572.2V589.6M476.5 447.1V470.0M515.5 352.7V375.6M520.5 357.8V373.6M530.5 350.2V425.8M550.5 375.0V405.8M554.5 386.0V416.5M559.5 405.5V464.0M564.5 433.0V454.7M574.5 437.0V445.0M589.5 425.0V444.2M604.5 430.2V442.1M609.5 436.1V444.6M614.5 431.9V499.8M623.5 388.2V450.9M643.5 373.3V414.9M663.5 394.5V411.5M668.5 394.9V413.2M683.5 285.9V322.4M688.5 302.1V320.7M697.5 279.1V316.5M712.5 230.7V305.4M717.5 301.2V378.0M727.5 356.3V371.6M732.5 357.2V387.7M761.5 337.6V429.8M791.5 397.1V412.0M796.5 401.3V411.5M811.5 398.8V407.2M816.5 399.6V432.7M821.5 405.6V423.7M830.5 411.2V444.6M850.5 382.3V463.4M855.5 448.5V507.9M865.5 468.0V494.7M870.5 479.9V514.4M885.5 473.1V498.6M895.5 469.7V486.7M899.5 478.7V497.7M904.5 481.6V500.3M909.5 447.0V510.5M914.5 493.0V558.8M924.5 530.0V541.9M944.5 473.1V564.8M978.5 457.0V471.9M988.5 461.7V469.7M998.5 461.2V473.6M1008.5 463.8V471.4M1013.5 466.3V476.0M1028.5 455.3V483.8M1062.5 428.8V471.2M1072.5 441.2V470.4M1077.5 457.6V483.1M1087.5 470.0V505.2M1101.5 468.7V489.0M1106.5 478.0V494.1M1111.5 487.3V498.9M1136.5 481.9V487.3M1141.5 483.1V499.6M1151.5 472.1V484.8M1156.5 478.0V509.4M1166.5 461.9V480.9M1175.5 464.9V512.0M1185.5 487.3V495.8M1195.5 487.3V493.3M1200.5 485.6V497.2M1205.5 489.0V494.1M1220.5 480.9V486.5M1225.5 483.1V490.7M1239.5 479.7V494.1M1254.5 431.3V454.2M1259.5 446.9V478.8M1264.5 475.1V500.9M1269.5 483.9V500.1M1284.5 478.8V488.2M1299.5 460.9V482.0M1308.5 466.6V476.2M1323.5 446.2V474.5M1328.5 460.9V475.6M1333.5 467.2V476.8M1343.5 467.2V472.6M1373.5 441.1V454.7" stroke="#ff0000" stroke-width="1" fill="none"/>
<path d="M17.5 353.0V372.5M32.5 442.4V478.4M47.5 424.3V447.5M52.5 400.2V448.7M57.5 377.1V411.6M72.5 417.0V461.5M91.5 445.0V518.8M96.5 431.4V455.5M101.5 428.0V454.7M141.5 562.1V637.1M145.5 549.7V611.7M150.5 563.8V595.9M160.5 565.8V587.9M170.5 574.3V594.7M175.5 572.3V583.2M180.5 553.1V584.9M185.5 537.0V567.9M195.5 542.1V557.0M200.5 525.1V548.0M214.5 520.8V569.6M229.5 524.2V559.9M234.5 467.1V532.4M259.5 489.1V525.6M264.5 477.2V507.8M269.5 467.1V501.9M279.5 478.9V495.9M288.5 482.0V512.0M293.5 436.0V492.5M303.5 423.4V454.7M308.5 431.9V449.2M323.5 439.4V454.7M343.5 422.1V457.2M347.5 410.2V444.5M377.5 450.0V462.9M387.5 457.2V464.9M392.5 451.3V467.8M397.5 453.9V464.0M407.5 432.1V456.4M412.5 433.1V443.7M426.5 531.1V548.9M446.5 543.3V580.6M451.5 540.2V559.4M456.5 544.1V553.0M461.5 536.2V559.4M466.5 444.5V543.8M471.5 441.1V462.7M481.5 434.0V463.7M485.5 416.0V443.3M490.5 419.0V435.7M495.5 387.6V442.8M500.5 388.8V426.7M505.5 356.1V401.7M510.5 343.0V374.8M525.5 351.0V390.9M535.5 385.0V406.8M540.5 365.1V394.4M545.5 370.2V385.0M569.5 437.7V451.3M579.5 438.0V451.0M584.5 425.0V443.7M594.5 430.9V443.0M599.5 431.0V439.1M619.5 386.0V456.5M628.5 393.2V437.5M633.5 389.9V406.0M638.5 372.1V397.9M648.5 394.2V420.0M653.5 384.0V403.3M658.5 389.1V413.5M673.5 335.7V410.6M678.5 268.9V341.1M692.5 297.8V311.4M702.5 297.0V313.6M707.5 251.1V304.6M722.5 355.1V371.6M737.5 346.1V384.0M742.5 326.7V365.7M747.5 330.9V368.7M752.5 331.8V346.6M757.5 335.7V349.5M766.5 409.8V436.1M771.5 411.2V425.9M776.5 412.3V420.0M781.5 411.5V416.9M786.5 393.2V412.7M801.5 399.6V419.1M806.5 395.4V407.8M826.5 406.1V421.7M835.5 384.7V432.7M840.5 388.6V410.6M845.5 373.3V396.6M860.5 471.9V496.9M875.5 474.8V494.7M880.5 465.8V510.5M890.5 473.1V486.7M919.5 533.9V550.4M929.5 532.5V541.5M934.5 522.0V538.1M939.5 459.0V526.6M949.5 535.1V562.2M954.5 489.2V548.7M959.5 465.8V502.5M963.5 471.9V487.2M968.5 448.8V485.0M973.5 454.1V487.5M983.5 461.2V471.9M993.5 462.1V469.7M1003.5 466.8V470.2M1018.5 465.5V471.9M1023.5 451.0V468.0M1032.5 459.0V473.1M1037.5 452.2V470.6M1042.5 440.0V470.6M1047.5 438.0V449.3M1052.5 430.0V445.7M1057.5 420.8V448.0M1067.5 450.0V475.1M1082.5 470.0V480.9M1092.5 472.9V500.9M1097.5 463.9V485.6M1116.5 487.2V509.6M1121.5 479.7V495.8M1126.5 476.3V486.0M1131.5 478.8V488.7M1146.5 472.1V495.8M1161.5 461.0V507.7M1170.5 468.7V479.7M1180.5 489.0V503.5M1190.5 489.0V495.0M1210.5 490.7V497.2M1215.5 477.1V492.1M1230.5 483.6V490.7M1235.5 477.1V488.2M1244.5 479.7V491.1M1249.5 436.4V485.6M1274.5 485.3V493.3M1279.5 479.7V497.9M1289.5 458.1V482.6M1294.5 454.1V478.5M1304.5 470.0V479.6M1313.5 469.5V473.8M1318.5 457.0V476.8M1338.5 465.5V473.4M1348.5 463.5V470.5M1353.5 461.3V470.0M1358.5 457.0V467.7M1363.5 454.1V464.7M1368.5 442.8V462.6M1377.5 425.8V451.9" stroke="#089981" stroke-width="1" fill="none"/>
<rect x="16.0" y="363.0" width="3" height="1.0" fill="#2e7d32"/>
<rect x="21.5" y="362.0" width="2" height="39.4" fill="#5b8f55" stroke="#ff0000" stroke-width="1"/>
<rect x="26.0" y="401.4" width="3" height="66.5" fill="#ff0000"/><rect x="26.9" y="401.4" width="1.2" height="66.5" fill="#000000"/>
<rect x="31.5" y="444.3" width="2" height="23.6" fill="#efeceb" stroke="#ff0000" stroke-width="1"/>
<rect x="36.0" y="444.5" width="3" height="4.2" fill="#ff0000"/>
<rect x="41.0" y="448.0" width="3" height="1.0" fill="#ff0000"/>
<rect x="46.5" y="432.8" width="2" height="14.2" fill="#efeceb" stroke="#000000" stroke-width="1"/>
<rect x="51.5" y="408.6" width="2" height="23.2" fill="#e9eee6" stroke="#2e7d32" stroke-width="1"/>
<rect x="56.5" y="390.0" width="2" height="17.7" fill="#e9eee6" stroke="#2e7d32" stroke-width="1"/>
<rect x="61.5" y="389.7" width="2" height="10.0" fill="#5b8f55" stroke="#ff0000" stroke-width="1"/>
<rect x="66.0" y="400.2" width="3" height="25.3" fill="#ff0000"/>
<rect x="71.5" y="418.8" width="2" height="5.3" fill="#efeceb" stroke="#000000" stroke-width="1"/>
<rect x="75.0" y="418.7" width="3" height="1.0" fill="#ff0000"/>
<rect x="80.0" y="419.2" width="3" height="52.1" fill="#ff0000"/>
<rect x="85.0" y="471.3" width="3" height="44.1" fill="#ff0000"/>
<rect x="90.5" y="446.7" width="2" height="68.2" fill="#efeceb" stroke="#ff0000" stroke-width="1"/>
<rect x="95.5" y="440.4" width="2" height="5.8" fill="#e9eee6" stroke="#2e7d32" stroke-width="1"/>
<rect x="100.0" y="440.0" width="3" height="1.0" fill="#000000"/>
<rect x="105.5" y="440.4" width="2" height="7.5" fill="#5b8f55" stroke="#ff0000" stroke-width="1"/>
<rect x="110.5" y="448.9" width="2" height="31.2" fill="#5b8f55" stroke="#ff0000" stroke-width="1"/>
<rect x="115.0" y="479.8" width="3" height="51.7" fill="#ff0000"/>
<rect x="120.0" y="531.0" width="3" height="6.5" fill="#ff0000"/>
<rect x="125.0" y="537.8" width="3" height="11.4" fill="#ff0000"/>
<rect x="130.0" y="549.2" width="3" height="43.8" fill="#ff0000"/>
<rect x="135.0" y="592.2" width="3" height="15.2" fill="#ff0000"/>
<rect x="140.5" y="598.9" width="2" height="8.0" fill="#efeceb" stroke="#000000" stroke-width="1"/>
<rect x="144.5" y="577.0" width="2" height="20.9" fill="#efeceb" stroke="#000000" stroke-width="1"/>
<rect x="149.5" y="569.7" width="2" height="6.3" fill="#efeceb" stroke="#000000" stroke-width="1"/>
<rect x="154.5" y="569.7" width="2" height="5.5" fill="#5b8f55" stroke="#ff0000" stroke-width="1"/>
<rect x="159.5" y="574.0" width="2" height="1.2" fill="#e9eee6" stroke="#2e7d32" stroke-width="1"/>
<rect x="164.0" y="573.5" width="3" height="10.2" fill="#ff0000"/>
<rect x="169.0" y="582.0" width="3" height="1.5" fill="#000000"/>
<rect x="174.5" y="577.0" width="2" height="5.0" fill="#efeceb" stroke="#000000" stroke-width="1"/>
<rect x="179.5" y="567.7" width="2" height="8.3" fill="#efeceb" stroke="#000000" stroke-width="1"/>
<rect x="184.5" y="541.7" width="2" height="25.0" fill="#e9eee6" stroke="#2e7d32" stroke-width="1"/>
<rect x="189.5" y="541.7" width="2" height="14.3" fill="#5b8f55" stroke="#ff0000" stroke-width="1"/>
<rect x="194.5" y="545.6" width="2" height="10.4" fill="#e9eee6" stroke="#2e7d32" stroke-width="1"/>
<rect x="199.5" y="535.8" width="2" height="9.2" fill="#e9eee6" stroke="#2e7d32" stroke-width="1"/>
<rect x="204.0" y="535.6" width="3" height="6.5" fill="#ff0000"/><rect x="204.9" y="535.6" width="1.2" height="6.5" fill="#000000"/>
<rect x="209.0" y="542.9" width="3" height="8.5" fill="#ff0000"/><rect x="209.9" y="542.9" width="1.2" height="8.5" fill="#000000"/>
<rect x="213.5" y="527.0" width="2" height="23.9" fill="#efeceb" stroke="#000000" stroke-width="1"/>
<rect x="218.5" y="526.4" width="2" height="11.4" fill="#5b8f55" stroke="#ff0000" stroke-width="1"/>
<rect x="223.0" y="538.3" width="3" height="13.1" fill="#ff0000"/><rect x="223.9" y="538.3" width="1.2" height="13.1" fill="#000000"/>
<rect x="228.5" y="532.0" width="2" height="18.9" fill="#e9eee6" stroke="#2e7d32" stroke-width="1"/>
<rect x="233.5" y="477.7" width="2" height="53.4" fill="#e9eee6" stroke="#2e7d32" stroke-width="1"/>
<rect x="238.5" y="477.7" width="2" height="1.9" fill="#5b8f55" stroke="#ff0000" stroke-width="1"/>
<rect x="243.5" y="480.6" width="2" height="19.1" fill="#5b8f55" stroke="#ff0000" stroke-width="1"/>
<rect x="248.0" y="499.0" width="3" height="5.4" fill="#ff0000"/>
<rect x="253.0" y="504.4" width="3" height="5.1" fill="#ff0000"/><rect x="253.9" y="504.4" width="1.2" height="5.1" fill="#000000"/>
<rect x="258.5" y="507.5" width="2" height="1.5" fill="#efeceb" stroke="#ff0000" stroke-width="1"/>
<rect x="263.5" y="494.7" width="2" height="12.6" fill="#efeceb" stroke="#ff0000" stroke-width="1"/>
<rect x="268.5" y="477.7" width="2" height="17.2" fill="#efeceb" stroke="#000000" stroke-width="1"/>
<rect x="273.5" y="477.7" width="2" height="15.2" fill="#5b8f55" stroke="#ff0000" stroke-width="1"/>
<rect x="278.5" y="484.5" width="2" height="8.4" fill="#e9eee6" stroke="#2e7d32" stroke-width="1"/>
<rect x="282.0" y="484.0" width="3" height="14.5" fill="#ff0000"/><rect x="282.9" y="484.0" width="1.2" height="14.5" fill="#000000"/>
<rect x="287.5" y="493.0" width="2" height="5.0" fill="#efeceb" stroke="#ff0000" stroke-width="1"/>
<rect x="292.5" y="442.9" width="2" height="49.1" fill="#efeceb" stroke="#000000" stroke-width="1"/>
<rect x="297.0" y="442.4" width="3" height="3.1" fill="#ff0000"/>
<rect x="302.5" y="441.8" width="2" height="3.2" fill="#e9eee6" stroke="#2e7d32" stroke-width="1"/>
<rect x="307.0" y="441.0" width="3" height="1.0" fill="#2e7d32"/>
<rect x="312.0" y="440.7" width="3" height="3.8" fill="#ff0000"/>
<rect x="317.0" y="443.7" width="3" height="8.5" fill="#ff0000"/>
<rect x="322.5" y="443.0" width="2" height="8.7" fill="#efeceb" stroke="#ff0000" stroke-width="1"/>
<rect x="327.0" y="442.5" width="3" height="8.0" fill="#ff0000"/>
<rect x="332.0" y="450.5" width="3" height="3.4" fill="#ff0000"/>
<rect x="337.0" y="453.9" width="3" height="3.3" fill="#ff0000"/>
<rect x="342.5" y="441.6" width="2" height="15.1" fill="#efeceb" stroke="#000000" stroke-width="1"/>
<rect x="346.5" y="422.6" width="2" height="18.0" fill="#efeceb" stroke="#000000" stroke-width="1"/>
<rect x="351.0" y="422.1" width="3" height="11.4" fill="#ff0000"/><rect x="351.9" y="422.1" width="1.2" height="11.4" fill="#000000"/>
<rect x="356.0" y="433.5" width="3" height="9.3" fill="#ff0000"/><rect x="356.9" y="433.5" width="1.2" height="9.3" fill="#000000"/>
<rect x="361.0" y="442.8" width="3" height="3.4" fill="#ff0000"/>
<rect x="366.0" y="446.2" width="3" height="8.5" fill="#ff0000"/>
<rect x="371.0" y="454.7" width="3" height="2.5" fill="#ff0000"/>
<rect x="376.5" y="453.8" width="2" height="3.3" fill="#efeceb" stroke="#ff0000" stroke-width="1"/>
<rect x="381.0" y="453.3" width="3" height="9.0" fill="#ff0000"/>
<rect x="386.0" y="462.2" width="3" height="1.0" fill="#000000"/>
<rect x="391.5" y="456.9" width="2" height="5.3" fill="#efeceb" stroke="#000000" stroke-width="1"/>
<rect x="396.0" y="455.0" width="3" height="1.8" fill="#000000"/>
<rect x="401.0" y="454.7" width="3" height="2.5" fill="#ff0000"/>
<rect x="406.5" y="443.7" width="2" height="12.2" fill="#e9eee6" stroke="#2e7d32" stroke-width="1"/>
<rect x="411.5" y="441.6" width="2" height="1.6" fill="#e9eee6" stroke="#2e7d32" stroke-width="1"/>
<rect x="415.5" y="441.6" width="2" height="19.4" fill="#5b8f55" stroke="#ff0000" stroke-width="1"/>
<rect x="420.0" y="461.5" width="3" height="79.2" fill="#ff0000"/>
<rect x="425.5" y="533.6" width="2" height="6.6" fill="#efeceb" stroke="#ff0000" stroke-width="1"/>
<rect x="430.0" y="533.0" width="3" height="2.2" fill="#ff0000"/>
<rect x="435.0" y="534.0" width="3" height="44.4" fill="#ff0000"/>
<rect x="440.0" y="578.1" width="3" height="2.5" fill="#ff0000"/>
<rect x="445.5" y="554.0" width="2" height="26.1" fill="#efeceb" stroke="#000000" stroke-width="1"/>
<rect x="450.5" y="550.9" width="2" height="2.1" fill="#efeceb" stroke="#000000" stroke-width="1"/>
<rect x="455.0" y="549.0" width="3" height="1.2" fill="#000000"/>
<rect x="460.5" y="540.7" width="2" height="8.9" fill="#e9eee6" stroke="#2e7d32" stroke-width="1"/>
<rect x="465.5" y="454.7" width="2" height="85.5" fill="#e9eee6" stroke="#2e7d32" stroke-width="1"/>
<rect x="470.5" y="450.5" width="2" height="3.7" fill="#e9eee6" stroke="#2e7d32" stroke-width="1"/>
<rect x="475.5" y="451.0" width="2" height="8.0" fill="#5b8f55" stroke="#ff0000" stroke-width="1"/>
<rect x="480.5" y="443.8" width="2" height="15.2" fill="#e9eee6" stroke="#2e7d32" stroke-width="1"/>
<rect x="484.5" y="430.6" width="2" height="12.2" fill="#e9eee6" stroke="#2e7d32" stroke-width="1"/>
<rect x="489.5" y="422.6" width="2" height="7.5" fill="#efeceb" stroke="#000000" stroke-width="1"/>
<rect x="494.5" y="416.7" width="2" height="5.2" fill="#efeceb" stroke="#000000" stroke-width="1"/>
<rect x="499.5" y="396.6" width="2" height="19.4" fill="#efeceb" stroke="#000000" stroke-width="1"/>
<rect x="504.5" y="367.6" width="2" height="28.0" fill="#efeceb" stroke="#000000" stroke-width="1"/>
<rect x="509.5" y="359.2" width="2" height="7.8" fill="#e9eee6" stroke="#2e7d32" stroke-width="1"/>
<rect x="514.5" y="359.2" width="2" height="7.4" fill="#5b8f55" stroke="#ff0000" stroke-width="1"/>
<rect x="519.0" y="367.1" width="3" height="2.1" fill="#ff0000"/>
<rect x="524.5" y="358.8" width="2" height="10.1" fill="#efeceb" stroke="#000000" stroke-width="1"/>
<rect x="529.0" y="357.8" width="3" height="42.6" fill="#ff0000"/>
<rect x="534.5" y="394.9" width="2" height="6.3" fill="#efeceb" stroke="#ff0000" stroke-width="1"/>
<rect x="539.5" y="377.0" width="2" height="16.9" fill="#efeceb" stroke="#ff0000" stroke-width="1"/>
<rect x="544.5" y="374.8" width="2" height="1.2" fill="#efeceb" stroke="#ff0000" stroke-width="1"/>
<rect x="549.0" y="375.3" width="3" height="20.0" fill="#ff0000"/>
<rect x="553.0" y="395.3" width="3" height="11.9" fill="#ff0000"/><rect x="553.9" y="395.3" width="1.2" height="11.9" fill="#000000"/>
<rect x="558.0" y="406.8" width="3" height="31.8" fill="#ff0000"/>
<rect x="563.0" y="438.6" width="3" height="9.0" fill="#ff0000"/>
<rect x="568.5" y="439.1" width="2" height="8.0" fill="#efeceb" stroke="#ff0000" stroke-width="1"/>
<rect x="573.0" y="437.7" width="3" height="6.8" fill="#ff0000"/>
<rect x="578.5" y="439.4" width="2" height="4.6" fill="#efeceb" stroke="#000000" stroke-width="1"/>
<rect x="583.0" y="437.7" width="3" height="1.7" fill="#000000"/>
<rect x="588.0" y="438.6" width="3" height="3.9" fill="#ff0000"/><rect x="588.9" y="438.6" width="1.2" height="3.9" fill="#000000"/>
<rect x="593.5" y="439.6" width="2" height="2.4" fill="#efeceb" stroke="#000000" stroke-width="1"/>
<rect x="598.5" y="432.3" width="2" height="6.3" fill="#efeceb" stroke="#000000" stroke-width="1"/>
<rect x="603.0" y="431.5" width="3" height="8.9" fill="#ff0000"/><rect x="603.9" y="431.5" width="1.2" height="8.9" fill="#000000"/>
<rect x="608.0" y="439.5" width="3" height="1.7" fill="#ff0000"/>
<rect x="613.0" y="439.5" width="3" height="5.9" fill="#ff0000"/>
<rect x="618.5" y="393.0" width="2" height="51.1" fill="#efeceb" stroke="#000000" stroke-width="1"/>
<rect x="622.0" y="392.5" width="3" height="36.0" fill="#ff0000"/><rect x="622.9" y="392.5" width="1.2" height="36.0" fill="#000000"/>
<rect x="627.5" y="405.7" width="2" height="23.1" fill="#e9eee6" stroke="#2e7d32" stroke-width="1"/>
<rect x="632.5" y="394.7" width="2" height="10.4" fill="#e9eee6" stroke="#2e7d32" stroke-width="1"/>
<rect x="637.5" y="390.8" width="2" height="3.2" fill="#e9eee6" stroke="#2e7d32" stroke-width="1"/>
<rect x="642.0" y="390.3" width="3" height="18.6" fill="#ff0000"/><rect x="642.9" y="390.3" width="1.2" height="18.6" fill="#000000"/>
<rect x="647.5" y="401.8" width="2" height="7.2" fill="#efeceb" stroke="#000000" stroke-width="1"/>
<rect x="652.5" y="398.8" width="2" height="2.0" fill="#efeceb" stroke="#000000" stroke-width="1"/>
<rect x="657.5" y="396.7" width="2" height="1.6" fill="#efeceb" stroke="#ff0000" stroke-width="1"/>
<rect x="662.0" y="396.2" width="3" height="3.4" fill="#ff0000"/>
<rect x="667.0" y="398.8" width="3" height="2.5" fill="#ff0000"/>
<rect x="672.5" y="341.5" width="2" height="59.3" fill="#e9eee6" stroke="#2e7d32" stroke-width="1"/>
<rect x="677.5" y="288.6" width="2" height="52.0" fill="#e9eee6" stroke="#2e7d32" stroke-width="1"/>
<rect x="682.5" y="288.6" width="2" height="17.2" fill="#5b8f55" stroke="#ff0000" stroke-width="1"/>
<rect x="687.5" y="307.6" width="2" height="2.4" fill="#5b8f55" stroke="#ff0000" stroke-width="1"/>
<rect x="691.5" y="302.6" width="2" height="7.8" fill="#e9eee6" stroke="#2e7d32" stroke-width="1"/>
<rect x="696.0" y="302.1" width="3" height="4.7" fill="#ff0000"/><rect x="696.9" y="302.1" width="1.2" height="4.7" fill="#000000"/>
<rect x="701.5" y="302.6" width="2" height="3.7" fill="#efeceb" stroke="#ff0000" stroke-width="1"/>
<rect x="706.5" y="272.8" width="2" height="29.1" fill="#efeceb" stroke="#000000" stroke-width="1"/>
<rect x="711.0" y="272.3" width="3" height="31.1" fill="#ff0000"/><rect x="711.9" y="272.3" width="1.2" height="31.1" fill="#000000"/>
<rect x="716.0" y="302.9" width="3" height="63.6" fill="#ff0000"/>
<rect x="721.5" y="362.8" width="2" height="2.9" fill="#efeceb" stroke="#ff0000" stroke-width="1"/>
<rect x="726.5" y="362.8" width="2" height="2.9" fill="#5b8f55" stroke="#ff0000" stroke-width="1"/>
<rect x="731.0" y="366.2" width="3" height="6.2" fill="#ff0000"/>
<rect x="736.5" y="366.2" width="2" height="5.7" fill="#efeceb" stroke="#ff0000" stroke-width="1"/>
<rect x="741.5" y="345.8" width="2" height="19.4" fill="#efeceb" stroke="#000000" stroke-width="1"/>
<rect x="746.5" y="341.5" width="2" height="3.6" fill="#efeceb" stroke="#000000" stroke-width="1"/>
<rect x="751.0" y="340.0" width="3" height="1.0" fill="#2e7d32"/>
<rect x="756.5" y="340.7" width="2" height="1.5" fill="#efeceb" stroke="#ff0000" stroke-width="1"/>
<rect x="760.0" y="341.9" width="3" height="82.3" fill="#ff0000"/>
<rect x="765.0" y="423.0" width="3" height="1.0" fill="#ff0000"/>
<rect x="770.5" y="417.9" width="2" height="5.3" fill="#efeceb" stroke="#ff0000" stroke-width="1"/>
<rect x="775.5" y="415.7" width="2" height="1.6" fill="#efeceb" stroke="#ff0000" stroke-width="1"/>
<rect x="780.5" y="412.8" width="2" height="2.1" fill="#efeceb" stroke="#ff0000" stroke-width="1"/>
<rect x="785.5" y="400.4" width="2" height="11.8" fill="#efeceb" stroke="#000000" stroke-width="1"/>
<rect x="790.5" y="401.8" width="2" height="3.3" fill="#5b8f55" stroke="#ff0000" stroke-width="1"/>
<rect x="795.0" y="405.0" width="3" height="1.2" fill="#ff0000"/>
<rect x="800.5" y="403.5" width="2" height="1.6" fill="#e9eee6" stroke="#2e7d32" stroke-width="1"/>
<rect x="805.5" y="401.8" width="2" height="1.6" fill="#e9eee6" stroke="#2e7d32" stroke-width="1"/>
<rect x="810.0" y="401.8" width="3" height="1.4" fill="#ff0000"/><rect x="810.9" y="401.8" width="1.2" height="1.4" fill="#000000"/>
<rect x="815.0" y="402.5" width="3" height="15.4" fill="#ff0000"/>
<rect x="820.0" y="417.0" width="3" height="1.0" fill="#ff0000"/>
<rect x="825.5" y="413.7" width="2" height="3.7" fill="#efeceb" stroke="#ff0000" stroke-width="1"/>
<rect x="829.0" y="413.2" width="3" height="14.4" fill="#ff0000"/>
<rect x="834.5" y="406.9" width="2" height="20.2" fill="#efeceb" stroke="#000000" stroke-width="1"/>
<rect x="839.5" y="396.7" width="2" height="9.2" fill="#e9eee6" stroke="#2e7d32" stroke-width="1"/>
<rect x="844.5" y="384.0" width="2" height="12.1" fill="#e9eee6" stroke="#2e7d32" stroke-width="1"/>
<rect x="849.0" y="383.5" width="3" height="68.7" fill="#ff0000"/><rect x="849.9" y="383.5" width="1.2" height="68.7" fill="#000000"/>
<rect x="854.0" y="451.9" width="3" height="34.3" fill="#ff0000"/>
<rect x="859.5" y="474.8" width="2" height="10.9" fill="#efeceb" stroke="#ff0000" stroke-width="1"/>
<rect x="864.0" y="474.3" width="3" height="12.9" fill="#ff0000"/>
<rect x="869.0" y="487.2" width="3" height="6.3" fill="#ff0000"/>
<rect x="874.5" y="477.5" width="2" height="15.5" fill="#efeceb" stroke="#000000" stroke-width="1"/>
<rect x="879.5" y="475.3" width="2" height="1.9" fill="#e9eee6" stroke="#2e7d32" stroke-width="1"/>
<rect x="884.5" y="475.3" width="2" height="8.0" fill="#5b8f55" stroke="#ff0000" stroke-width="1"/>
<rect x="889.5" y="475.3" width="2" height="8.0" fill="#e9eee6" stroke="#2e7d32" stroke-width="1"/>
<rect x="894.5" y="475.3" width="2" height="6.3" fill="#5b8f55" stroke="#ff0000" stroke-width="1"/>
<rect x="898.0" y="481.0" width="3" height="1.2" fill="#ff0000"/>
<rect x="903.0" y="482.1" width="3" height="9.7" fill="#ff0000"/><rect x="903.9" y="482.1" width="1.2" height="9.7" fill="#000000"/>
<rect x="908.5" y="492.3" width="2" height="10.9" fill="#5b8f55" stroke="#ff0000" stroke-width="1"/>
<rect x="913.0" y="502.8" width="3" height="40.8" fill="#ff0000"/>
<rect x="918.5" y="537.6" width="2" height="5.8" fill="#efeceb" stroke="#ff0000" stroke-width="1"/>
<rect x="923.0" y="536.6" width="3" height="1.0" fill="#ff0000"/>
<rect x="928.5" y="535.6" width="2" height="1.9" fill="#efeceb" stroke="#ff0000" stroke-width="1"/>
<rect x="933.5" y="525.4" width="2" height="10.0" fill="#efeceb" stroke="#ff0000" stroke-width="1"/>
<rect x="938.5" y="475.6" width="2" height="49.3" fill="#e9eee6" stroke="#2e7d32" stroke-width="1"/>
<rect x="943.5" y="475.6" width="2" height="85.3" fill="#5b8f55" stroke="#ff0000" stroke-width="1"/>
<rect x="948.5" y="539.5" width="2" height="21.4" fill="#e9eee6" stroke="#2e7d32" stroke-width="1"/>
<rect x="953.5" y="501.6" width="2" height="37.2" fill="#e9eee6" stroke="#2e7d32" stroke-width="1"/>
<rect x="958.5" y="481.8" width="2" height="20.2" fill="#e9eee6" stroke="#2e7d32" stroke-width="1"/>
<rect x="962.5" y="475.6" width="2" height="5.5" fill="#efeceb" stroke="#000000" stroke-width="1"/>
<rect x="967.0" y="474.0" width="3" height="1.0" fill="#2e7d32"/>
<rect x="972.5" y="465.6" width="2" height="9.2" fill="#e9eee6" stroke="#2e7d32" stroke-width="1"/>
<rect x="977.5" y="465.6" width="2" height="1.8" fill="#5b8f55" stroke="#ff0000" stroke-width="1"/>
<rect x="982.5" y="463.9" width="2" height="4.1" fill="#efeceb" stroke="#000000" stroke-width="1"/>
<rect x="987.0" y="463.8" width="3" height="3.4" fill="#ff0000"/><rect x="987.9" y="463.8" width="1.2" height="3.4" fill="#000000"/>
<rect x="992.5" y="465.1" width="2" height="2.1" fill="#efeceb" stroke="#000000" stroke-width="1"/>
<rect x="997.0" y="464.6" width="3" height="4.3" fill="#ff0000"/><rect x="997.9" y="464.6" width="1.2" height="4.3" fill="#000000"/>
<rect x="1002.0" y="468.0" width="3" height="1.0" fill="#000000"/>
<rect x="1007.0" y="468.4" width="3" height="1.0" fill="#ff0000"/>
<rect x="1012.0" y="468.5" width="3" height="2.9" fill="#ff0000"/><rect x="1012.9" y="468.5" width="1.2" height="2.9" fill="#000000"/>
<rect x="1017.5" y="467.7" width="2" height="3.2" fill="#efeceb" stroke="#000000" stroke-width="1"/>
<rect x="1022.5" y="460.0" width="2" height="7.0" fill="#efeceb" stroke="#000000" stroke-width="1"/>
<rect x="1027.5" y="460.0" width="2" height="9.7" fill="#5b8f55" stroke="#ff0000" stroke-width="1"/>
<rect x="1031.5" y="462.6" width="2" height="7.5" fill="#efeceb" stroke="#ff0000" stroke-width="1"/>
<rect x="1036.5" y="457.8" width="2" height="4.1" fill="#e9eee6" stroke="#2e7d32" stroke-width="1"/>
<rect x="1041.5" y="449.0" width="2" height="8.0" fill="#e9eee6" stroke="#2e7d32" stroke-width="1"/>
<rect x="1046.5" y="444.7" width="2" height="3.3" fill="#e9eee6" stroke="#2e7d32" stroke-width="1"/>
<rect x="1051.5" y="436.6" width="2" height="7.8" fill="#e9eee6" stroke="#2e7d32" stroke-width="1"/>
<rect x="1056.5" y="433.5" width="2" height="1.9" fill="#e9eee6" stroke="#2e7d32" stroke-width="1"/>
<rect x="1061.0" y="433.0" width="3" height="34.8" fill="#ff0000"/><rect x="1061.9" y="433.0" width="1.2" height="34.8" fill="#000000"/>
<rect x="1066.5" y="454.7" width="2" height="12.6" fill="#efeceb" stroke="#ff0000" stroke-width="1"/>
<rect x="1071.5" y="454.7" width="2" height="7.5" fill="#5b8f55" stroke="#ff0000" stroke-width="1"/>
<rect x="1076.0" y="461.9" width="3" height="13.6" fill="#ff0000"/>
<rect x="1081.5" y="471.7" width="2" height="3.3" fill="#efeceb" stroke="#ff0000" stroke-width="1"/>
<rect x="1086.0" y="470.4" width="3" height="22.0" fill="#ff0000"/>
<rect x="1091.5" y="485.8" width="2" height="6.1" fill="#efeceb" stroke="#000000" stroke-width="1"/>
<rect x="1096.5" y="475.6" width="2" height="9.2" fill="#efeceb" stroke="#000000" stroke-width="1"/>
<rect x="1100.0" y="475.5" width="3" height="9.3" fill="#ff0000"/><rect x="1100.9" y="475.5" width="1.2" height="9.3" fill="#000000"/>
<rect x="1105.0" y="484.8" width="3" height="5.6" fill="#ff0000"/><rect x="1105.9" y="484.8" width="1.2" height="5.6" fill="#000000"/>
<rect x="1110.0" y="490.4" width="3" height="3.4" fill="#ff0000"/><rect x="1110.9" y="490.4" width="1.2" height="3.4" fill="#000000"/>
<rect x="1115.0" y="492.5" width="3" height="1.0" fill="#000000"/>
<rect x="1120.5" y="484.8" width="2" height="8.5" fill="#efeceb" stroke="#ff0000" stroke-width="1"/>
<rect x="1125.0" y="482.6" width="3" height="1.0" fill="#2e7d32"/>
<rect x="1130.0" y="483.1" width="3" height="1.0" fill="#2e7d32"/>
<rect x="1135.5" y="483.6" width="2" height="2.4" fill="#5b8f55" stroke="#ff0000" stroke-width="1"/>
<rect x="1140.5" y="486.1" width="2" height="7.5" fill="#5b8f55" stroke="#ff0000" stroke-width="1"/>
<rect x="1145.5" y="477.6" width="2" height="16.0" fill="#e9eee6" stroke="#2e7d32" stroke-width="1"/>
<rect x="1150.0" y="476.3" width="3" height="2.5" fill="#ff0000"/>
<rect x="1155.0" y="478.8" width="3" height="25.5" fill="#ff0000"/>
<rect x="1160.5" y="476.0" width="2" height="27.8" fill="#efeceb" stroke="#000000" stroke-width="1"/>
<rect x="1165.5" y="476.0" width="2" height="3.2" fill="#5b8f55" stroke="#ff0000" stroke-width="1"/>
<rect x="1169.5" y="476.0" width="2" height="2.9" fill="#e9eee6" stroke="#2e7d32" stroke-width="1"/>
<rect x="1174.0" y="475.5" width="3" height="19.5" fill="#ff0000"/>
<rect x="1179.0" y="493.6" width="3" height="1.0" fill="#000000"/>
<rect x="1184.0" y="493.6" width="3" height="1.0" fill="#ff0000"/>
<rect x="1189.5" y="490.9" width="2" height="2.2" fill="#efeceb" stroke="#ff0000" stroke-width="1"/>
<rect x="1194.0" y="490.0" width="3" height="1.0" fill="#ff0000"/>
<rect x="1199.0" y="490.2" width="3" height="1.0" fill="#ff0000"/>
<rect x="1204.0" y="490.7" width="3" height="2.6" fill="#ff0000"/>
<rect x="1209.5" y="492.1" width="2" height="1.2" fill="#e9eee6" stroke="#2e7d32" stroke-width="1"/>
<rect x="1214.5" y="484.1" width="2" height="7.0" fill="#e9eee6" stroke="#2e7d32" stroke-width="1"/>
<rect x="1219.0" y="483.1" width="3" height="2.5" fill="#ff0000"/>
<rect x="1224.0" y="485.3" width="3" height="2.4" fill="#ff0000"/>
<rect x="1229.5" y="485.8" width="2" height="1.4" fill="#efeceb" stroke="#000000" stroke-width="1"/>
<rect x="1234.5" y="482.7" width="2" height="2.4" fill="#e9eee6" stroke="#2e7d32" stroke-width="1"/>
<rect x="1238.0" y="482.2" width="3" height="8.5" fill="#ff0000"/><rect x="1238.9" y="482.2" width="1.2" height="8.5" fill="#000000"/>
<rect x="1243.5" y="481.9" width="2" height="8.3" fill="#efeceb" stroke="#ff0000" stroke-width="1"/>
<rect x="1248.5" y="438.6" width="2" height="42.8" fill="#e9eee6" stroke="#2e7d32" stroke-width="1"/>
<rect x="1253.5" y="438.6" width="2" height="11.7" fill="#5b8f55" stroke="#ff0000" stroke-width="1"/>
<rect x="1258.0" y="450.5" width="3" height="28.3" fill="#ff0000"/><rect x="1258.9" y="450.5" width="1.2" height="28.3" fill="#000000"/>
<rect x="1263.0" y="478.5" width="3" height="11.4" fill="#ff0000"/><rect x="1263.9" y="478.5" width="1.2" height="11.4" fill="#000000"/>
<rect x="1268.0" y="490.0" width="3" height="1.0" fill="#ff0000"/>
<rect x="1273.5" y="488.7" width="2" height="2.7" fill="#efeceb" stroke="#ff0000" stroke-width="1"/>
<rect x="1278.5" y="482.7" width="2" height="5.3" fill="#efeceb" stroke="#ff0000" stroke-width="1"/>
<rect x="1283.0" y="481.4" width="3" height="1.0" fill="#ff0000"/>
<rect x="1288.5" y="469.9" width="2" height="11.8" fill="#e9eee6" stroke="#2e7d32" stroke-width="1"/>
<rect x="1293.5" y="464.0" width="2" height="4.9" fill="#e9eee6" stroke="#2e7d32" stroke-width="1"/>
<rect x="1298.5" y="464.0" width="2" height="7.7" fill="#5b8f55" stroke="#ff0000" stroke-width="1"/>
<rect x="1303.0" y="470.0" width="3" height="1.0" fill="#2e7d32"/>
<rect x="1307.0" y="471.5" width="3" height="1.9" fill="#ff0000"/><rect x="1307.9" y="471.5" width="1.2" height="1.9" fill="#000000"/>
<rect x="1312.5" y="470.8" width="2" height="2.1" fill="#efeceb" stroke="#ff0000" stroke-width="1"/>
<rect x="1317.5" y="458.8" width="2" height="11.2" fill="#efeceb" stroke="#ff0000" stroke-width="1"/>
<rect x="1322.5" y="458.6" width="2" height="7.5" fill="#5b8f55" stroke="#ff0000" stroke-width="1"/>
<rect x="1327.5" y="466.7" width="2" height="6.2" fill="#5b8f55" stroke="#ff0000" stroke-width="1"/>
<rect x="1332.0" y="473.0" width="3" height="1.0" fill="#ff0000"/>
<rect x="1337.5" y="470.1" width="2" height="2.8" fill="#efeceb" stroke="#000000" stroke-width="1"/>
<rect x="1342.0" y="469.5" width="3" height="1.0" fill="#ff0000"/>
<rect x="1347.5" y="464.8" width="2" height="5.0" fill="#efeceb" stroke="#ff0000" stroke-width="1"/>
<rect x="1352.0" y="464.0" width="3" height="1.0" fill="#000000"/>
<rect x="1357.5" y="462.0" width="2" height="1.8" fill="#e9eee6" stroke="#2e7d32" stroke-width="1"/>
<rect x="1362.5" y="458.0" width="2" height="3.0" fill="#e9eee6" stroke="#2e7d32" stroke-width="1"/>
<rect x="1367.5" y="448.8" width="2" height="8.2" fill="#e9eee6" stroke="#2e7d32" stroke-width="1"/>
<rect x="1372.0" y="448.5" width="3" height="1.7" fill="#ff0000"/>
<rect x="1376.5" y="438.2" width="2" height="12.0" fill="#e9eee6" stroke="#2e7d32" stroke-width="1"/>
<path d="M72 289.3L1642 146.7M140.8 637.1L1640 500.4" stroke="#9a9a9a" stroke-width="3" stroke-dasharray="3 6" fill="none"/>
<path d="M713.1 231.6L984 513.5M718 378.5L978.5 609" stroke="#a4a4a4" stroke-width="1.2" stroke-dasharray="1.5 2.6" fill="none"/>
<path d="M145.5 548.9L387 353.5M140.8 637.1L411.5 407.2" stroke="#3f5fd8" stroke-width="1.3" stroke-dasharray="1.4 2.2" fill="none"/>
<path d="M1062.8 421.1L1411.9 439.1M953.7 562.2L1392.6 476M1170.1 502L1594.5 484.9" stroke="#b5b5b5" stroke-width="1" fill="none"/>
<path d="M16 437.5H1558" stroke="#388e3c" stroke-width="1" stroke-dasharray="1 2" fill="none"/>
<text x="354.7" y="340" font-size="26" fill="#2f7bf6" stroke="#2f7bf6" stroke-width="0.35" text-anchor="middle" textLength="15.3" lengthAdjust="spacingAndGlyphs">A</text>
<text x="447.4" y="635.8" font-size="26" fill="#2f7bf6" stroke="#2f7bf6" stroke-width="0.35" text-anchor="middle" textLength="14.7" lengthAdjust="spacingAndGlyphs">B</text>
<text x="713.6" y="208.8" font-size="26" fill="#2f7bf6" stroke="#2f7bf6" stroke-width="0.35" text-anchor="middle" textLength="15.5" lengthAdjust="spacingAndGlyphs">C</text>
<text x="855.4" y="348.7" font-size="26" fill="#2f7bf6" stroke="#2f7bf6" stroke-width="0.35" text-anchor="middle">x</text>
<text x="770.8" y="484.1" font-size="26" fill="#2f7bf6" stroke="#2f7bf6" stroke-width="0.35" text-anchor="middle">w</text>
<text x="860" y="553.7" font-size="26" fill="#2f7bf6" stroke="#2f7bf6" stroke-width="0.35" text-anchor="middle">y</text>
<text x="926.2" y="430" font-size="26" fill="#2f7bf6" stroke="#2f7bf6" stroke-width="0.35" text-anchor="middle">x2</text>
<text x="954.2" y="597.9" font-size="26" fill="#2f7bf6" stroke="#2f7bf6" stroke-width="0.35" text-anchor="middle">z</text>
<text x="1058.6" y="402.4" font-size="26" fill="#2f7bf6" stroke="#2f7bf6" stroke-width="0.35" text-anchor="middle" textLength="15.3" lengthAdjust="spacingAndGlyphs">A</text>
<text x="1117.5" y="560.5" font-size="26" fill="#2f7bf6" stroke="#2f7bf6" stroke-width="0.35" text-anchor="middle" textLength="14.7" lengthAdjust="spacingAndGlyphs">B</text>
<text x="1255.5" y="403.3" font-size="26" fill="#2f7bf6" stroke="#2f7bf6" stroke-width="0.35" text-anchor="middle" textLength="15.5" lengthAdjust="spacingAndGlyphs">C</text>
<text x="1271.3" y="533.4" font-size="26" fill="#2f7bf6" stroke="#2f7bf6" stroke-width="0.35" text-anchor="middle" textLength="15.9" lengthAdjust="spacingAndGlyphs">D</text>
<text x="1389.2" y="417.9" font-size="26" fill="#2f7bf6" stroke="#2f7bf6" stroke-width="0.35" text-anchor="middle" textLength="13.9" lengthAdjust="spacingAndGlyphs">E</text>
<text x="154.4" y="537" font-size="21" fill="#2f8b35" stroke="#2f8b35" stroke-width="0.35" text-anchor="middle">a</text>
<text x="208.7" y="505.5" font-size="21" fill="#2f8b35" stroke="#2f8b35" stroke-width="0.35" text-anchor="middle">c</text>
<text x="224.5" y="491.7" font-size="21" fill="#2f8b35" stroke="#2f8b35" stroke-width="0.35" text-anchor="middle">b</text>
<text x="239.3" y="441.7" font-size="21" fill="#2f8b35" stroke="#2f8b35" stroke-width="0.35" text-anchor="middle">a</text>
<text x="175.1" y="642.6" font-size="21" fill="#2f8b35" stroke="#2f8b35" stroke-width="0.35" text-anchor="middle">b</text>
<text x="218.9" y="597.5" font-size="21" fill="#2f8b35" stroke="#2f8b35" stroke-width="0.35" text-anchor="middle">a</text>
<text x="238.4" y="592.4" font-size="21" fill="#2f8b35" stroke="#2f8b35" stroke-width="0.35" text-anchor="middle">c</text>
<text x="293.6" y="556.5" font-size="21" fill="#2f8b35" stroke="#2f8b35" stroke-width="0.35" text-anchor="middle">b</text>
<text x="352.6" y="368.2" font-size="21" fill="#2f8b35" stroke="#2f8b35" stroke-width="0.35" text-anchor="middle">c</text>
<text x="279.2" y="457.7" font-size="21" fill="#f57c00" stroke="#f57c00" stroke-width="0.35" text-anchor="middle">b</text>
<text x="292.7" y="537" font-size="21" fill="#f57c00" stroke="#f57c00" stroke-width="0.35" text-anchor="middle">c</text>
<text x="263.9" y="560" font-size="21" fill="#f57c00" stroke="#f57c00" stroke-width="0.35" text-anchor="middle">a</text>
<text x="132.2" y="710" font-size="46" fill="#f57c00" stroke="#f57c00" stroke-width="0.3" text-anchor="middle" textLength="26.5" lengthAdjust="spacingAndGlyphs">Y</text>
<text x="721.2" y="183.9" font-size="40.5" fill="#000" stroke="#000" stroke-width="0.3" text-anchor="middle" textLength="33.4" lengthAdjust="spacingAndGlyphs">W</text>
<text x="952.3" y="644.7" font-size="40.5" fill="#000" stroke="#000" stroke-width="0.3" text-anchor="middle" textLength="21.2" lengthAdjust="spacingAndGlyphs">X</text>
<text x="1489" y="142" font-size="40.5" fill="#000" stroke="#000" stroke-width="0.3" text-anchor="middle" textLength="18.7" lengthAdjust="spacingAndGlyphs">Z</text>
<text x="1518.3" y="97.9" font-size="46" fill="#f57c00" stroke="#f57c00" stroke-width="0.3" text-anchor="middle" textLength="48.3" lengthAdjust="spacingAndGlyphs">X2</text>
</g>
<path d="M1561 423H1641.5V452H1561a3 3 0 0 1-3-3V426a3 3 0 0 1 3-3Z" fill="#388e3c"/>
<path d="M1643 423H1740a3 3 0 0 1 3 3V449a3 3 0 0 1-3 3H1643Z" fill="#388e3c"/>
<text x="1565.8" y="444.4" font-size="18" fill="#fff" textLength="69" lengthAdjust="spacingAndGlyphs" stroke="#fff" stroke-width="0.45">ETHUSD</text>
<text x="1659" y="444.4" font-size="18" fill="#fff" textLength="76.5" lengthAdjust="spacingAndGlyphs" stroke="#fff" stroke-width="0.45">3.043,74</text>
<g transform="translate(1471.3,739.5)"><circle r="16.7" fill="#fff" stroke="#f23645" stroke-width="2.8"/><clipPath id="fc1471"><circle r="12.8"/></clipPath><g clip-path="url(#fc1471)"><rect x="-13" y="-13" width="26" height="26" fill="#fff"/><rect x="-13" y="-13" width="26" height="5.2" fill="#ef5350"/><rect x="-13" y="-2.6" width="26" height="5.2" fill="#ef5350"/><rect x="-13" y="7.8" width="26" height="5.2" fill="#ef5350"/><rect x="-13" y="-13" width="15.6" height="15.6" fill="#1e88e5"/><circle cx="-9.5" cy="-9.5" r="1.2" fill="#fff"/><circle cx="-5.2" cy="-9.5" r="1.2" fill="#fff"/><circle cx="-0.9" cy="-9.5" r="1.2" fill="#fff"/><circle cx="-9.5" cy="-5" r="1.2" fill="#fff"/><circle cx="-5.2" cy="-5" r="1.2" fill="#fff"/><circle cx="-0.9" cy="-5" r="1.2" fill="#fff"/><circle cx="-9.5" cy="-0.6" r="1.2" fill="#fff"/><circle cx="-5.2" cy="-0.6" r="1.2" fill="#fff"/><circle cx="-0.9" cy="-0.6" r="1.2" fill="#fff"/></g></g>
<g transform="translate(1530.4,739.5)"><circle r="16.7" fill="#fff" stroke="#f23645" stroke-width="2.8"/><clipPath id="fc1530"><circle r="12.8"/></clipPath><g clip-path="url(#fc1530)"><rect x="-13" y="-13" width="26" height="26" fill="#fff"/><rect x="-13" y="-13" width="26" height="5.2" fill="#ef5350"/><rect x="-13" y="-2.6" width="26" height="5.2" fill="#ef5350"/><rect x="-13" y="7.8" width="26" height="5.2" fill="#ef5350"/><rect x="-13" y="-13" width="15.6" height="15.6" fill="#1e88e5"/><circle cx="-9.5" cy="-9.5" r="1.2" fill="#fff"/><circle cx="-5.2" cy="-9.5" r="1.2" fill="#fff"/><circle cx="-0.9" cy="-9.5" r="1.2" fill="#fff"/><circle cx="-9.5" cy="-5" r="1.2" fill="#fff"/><circle cx="-5.2" cy="-5" r="1.2" fill="#fff"/><circle cx="-0.9" cy="-5" r="1.2" fill="#fff"/><circle cx="-9.5" cy="-0.6" r="1.2" fill="#fff"/><circle cx="-5.2" cy="-0.6" r="1.2" fill="#fff"/><circle cx="-0.9" cy="-0.6" r="1.2" fill="#fff"/></g></g>
<g transform="translate(1589.5,739.5)"><circle r="16.7" fill="#fff" stroke="#f23645" stroke-width="2.8"/><clipPath id="fc1589"><circle r="12.8"/></clipPath><g clip-path="url(#fc1589)"><rect x="-13" y="-13" width="26" height="26" fill="#fff"/><rect x="-13" y="-13" width="26" height="5.2" fill="#ef5350"/><rect x="-13" y="-2.6" width="26" height="5.2" fill="#ef5350"/><rect x="-13" y="7.8" width="26" height="5.2" fill="#ef5350"/><rect x="-13" y="-13" width="15.6" height="15.6" fill="#1e88e5"/><circle cx="-9.5" cy="-9.5" r="1.2" fill="#fff"/><circle cx="-5.2" cy="-9.5" r="1.2" fill="#fff"/><circle cx="-0.9" cy="-9.5" r="1.2" fill="#fff"/><circle cx="-9.5" cy="-5" r="1.2" fill="#fff"/><circle cx="-5.2" cy="-5" r="1.2" fill="#fff"/><circle cx="-0.9" cy="-5" r="1.2" fill="#fff"/><circle cx="-9.5" cy="-0.6" r="1.2" fill="#fff"/><circle cx="-5.2" cy="-0.6" r="1.2" fill="#fff"/><circle cx="-0.9" cy="-0.6" r="1.2" fill="#fff"/></g></g>
<g fill="#131313">
<path d="M20.2 844H39.9V868.6H30V854.3H20.2Z"/>
<circle cx="48.1" cy="848.5" r="4.6"/>
<path d="M54.6 844H69.4L59.2 868.6H48.6Z"/>
<text x="81" y="868.2" font-size="33" fill="#131313" textLength="199.5" lengthAdjust="spacingAndGlyphs" font-weight="bold" stroke="#131313" stroke-width="0.45">TradingView</text>
</g>
</svg></body></html>
